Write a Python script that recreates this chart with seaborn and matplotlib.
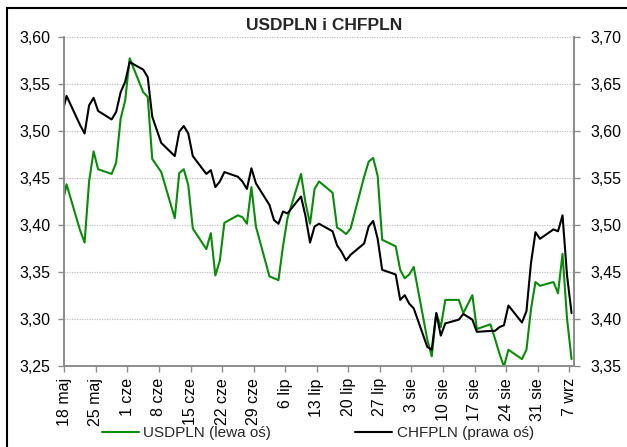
import numpy as np
import pandas as pd
import matplotlib
matplotlib.use('Agg')
import matplotlib.pyplot as plt
import matplotlib.transforms as mtransforms
from matplotlib.patches import Rectangle
import seaborn as sns

# ---------------------------------------------------------------------------
# Data (business days 2012, PL holidays skipped)
# ---------------------------------------------------------------------------
HOLIDAYS = ['2012-06-07', '2012-08-15']
dates = pd.bdate_range('2012-05-17', '2012-09-07').drop(pd.to_datetime(HOLIDAYS))

usdpln = [3.420, 3.443, 3.394, 3.381, 3.446, 3.478, 3.459, 3.454, 3.466, 3.513,
          3.532, 3.577, 3.541, 3.536, 3.470, 3.456, 3.407, 3.455, 3.459, 3.442,
          3.396, 3.374, 3.391, 3.346, 3.362, 3.402, 3.410, 3.408, 3.401, 3.440,
          3.398, 3.345, 3.343, 3.341, 3.377, 3.407, 3.454, 3.423, 3.401, 3.438,
          3.446, 3.434, 3.397, 3.394, 3.390, 3.396, 3.451, 3.467, 3.471, 3.452,
          3.384, 3.377, 3.352, 3.343, 3.347, 3.355, 3.278, 3.260, 3.306, 3.291,
          3.320, 3.320, 3.306, 3.325, 3.289, 3.294, 3.279, 3.263, 3.249, 3.267,
          3.257, 3.267, 3.310, 3.339, 3.335, 3.339, 3.327, 3.369, 3.300, 3.257]

chfpln = [3.618, 3.637, 3.606, 3.597, 3.627, 3.635, 3.621, 3.612, 3.620, 3.641,
          3.652, 3.673, 3.665, 3.657, 3.615, 3.587, 3.573, 3.599, 3.605, 3.597,
          3.573, 3.554, 3.558, 3.540, 3.546, 3.556, 3.551, 3.546, 3.538, 3.560,
          3.544, 3.521, 3.505, 3.501, 3.514, 3.512, 3.530, 3.509, 3.481, 3.498,
          3.501, 3.493, 3.478, 3.471, 3.462, 3.468, 3.480, 3.498, 3.504, 3.485,
          3.452, 3.447, 3.420, 3.425, 3.416, 3.411, 3.370, 3.367, 3.406, 3.382,
          3.395, 3.399, 3.405, 3.399, 3.386, 3.387, 3.387, 3.391, 3.393, 3.414,
          3.396, 3.408, 3.459, 3.492, 3.485, 3.495, 3.493, 3.510, 3.446, 3.406]

left_ticks = [3.25, 3.30, 3.35, 3.40, 3.45, 3.50, 3.55, 3.60]
right_ticks = [3.35, 3.40, 3.45, 3.50, 3.55, 3.60, 3.65, 3.70]
PL_MONTHS = {5: 'maj', 6: 'cze', 7: 'lip', 8: 'sie', 9: 'wrz'}
week_ticks = pd.date_range('2012-05-18', '2012-09-07', freq='7D')

TITLE = 'USDPLN i CHFPLN'
LABEL_USD = 'USDPLN (lewa oś)'
LABEL_CHF = 'CHFPLN (prawa oś)'

# ---------------------------------------------------------------------------
# Plot
# ---------------------------------------------------------------------------
sns.set_theme(style="white")
plt.rcParams['font.family'] = ['Liberation Sans', 'DejaVu Sans']

df = pd.DataFrame({'date': dates + pd.Timedelta(hours=12),
                   'USDPLN': usdpln, 'CHFPLN': chfpln})

W, H = 627, 447
fig = plt.figure(figsize=(W / 100, H / 100), dpi=100)
ax = fig.add_axes([64.3 / W, 1 - 365.7 / H, (573.8 - 64.3) / W, (365.7 - 36.7) / H])
ax2 = ax.twinx()

sns.lineplot(data=df, x='date', y='USDPLN', ax=ax, color='#0a8a0a', lw=1.5,
             label=LABEL_USD, legend=False)
sns.lineplot(data=df, x='date', y='CHFPLN', ax=ax2, color='black', lw=1.5,
             label=LABEL_CHF, legend=False)

ax.set_xlim(pd.Timestamp('2012-05-18'), pd.Timestamp('2012-09-08'))
ax.set_ylim(3.25, 3.60)
ax2.set_ylim(3.35, 3.70)

ax.set_yticks(left_ticks)
ax.set_yticklabels([f'{v:.2f}'.replace('.', ',') for v in left_ticks])
ax2.set_yticks(right_ticks)
ax2.set_yticklabels([f'{v:.2f}'.replace('.', ',') for v in right_ticks])

ax.set_xticks(week_ticks)
ax.set_xticklabels([f'{d.day} {PL_MONTHS[d.month]}' for d in week_ticks],
                   rotation=90, ha='center', va='top')
offset = mtransforms.ScaledTranslation(3 / 100, 0, fig.dpi_scale_trans)
for lbl in ax.get_xticklabels():
    lbl.set_transform(lbl.get_transform() + offset)

ax.set_xlabel('')
ax.set_ylabel('')
ax2.set_ylabel('')

spine_col = '#8c8c8c'
for a in (ax, ax2):
    for s in a.spines.values():
        s.set_color(spine_col)
        s.set_linewidth(1.2)
    a.spines['top'].set_visible(False)
ax.tick_params(axis='y', which='major', direction='out', length=4, width=1,
               color=spine_col, labelsize=11.5, pad=6, labelcolor='black', left=True)
ax.tick_params(axis='x', which='major', direction='out', length=4, width=1,
               color=spine_col, labelsize=11.5, pad=5, labelcolor='black', bottom=True)
ax2.tick_params(axis='y', which='major', direction='out', length=4, width=1,
                color=spine_col, labelsize=11.5, pad=8, labelcolor='black', right=True)

ax.grid(axis='y', linestyle=(0, (1, 1)), color='#c0c0c0', linewidth=0.9)
ax.grid(axis='x', visible=False)
ax2.grid(False)
ax.set_axisbelow(True)

fig.text(324 / W, 1 - 26 / H, TITLE, ha='center', va='center',
         fontsize=12.5, fontweight='bold')

handles = ax.get_lines()[:1] + ax2.get_lines()[:1]
fig.legend(handles, [LABEL_USD, LABEL_CHF], loc='center',
           bbox_to_anchor=(318 / W, 1 - 433 / H), ncol=2, frameon=False,
           fontsize=11, handlelength=2.4, handletextpad=0.3, columnspacing=5.5)

# outer frame (left and top edges visible in the reference)
fig.add_artist(Rectangle((6.7 / W, -0.1), 1.2, 1.1 - 8 / H,
                         transform=fig.transFigure, fill=False,
                         edgecolor='black', linewidth=1.5))

fig.savefig('out.png', dpi=100)
plt.close(fig)
